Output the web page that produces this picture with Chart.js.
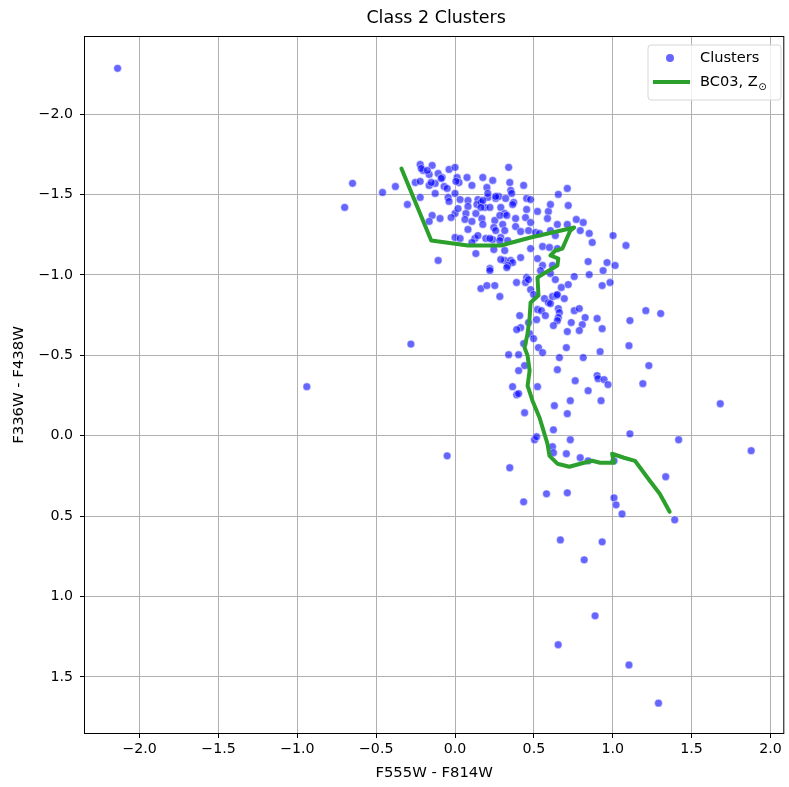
<!DOCTYPE html>
<html>
<head>
<meta charset="utf-8">
<script src="https://cdn.jsdelivr.net/npm/chart.js@4.4.0/dist/chart.umd.min.js"></script>
<style>
  html, body { margin: 0; padding: 0; background: #fff; }
  canvas { display: block; }
</style>
</head>
<body>
<canvas id="cmd" width="789" height="787"></canvas>
<script>
// ===== Date =====
const clusterX = [
  -2.14, -0.94, -0.65, -0.70, -0.46, -0.378, -0.302, -0.28, -0.05, -0.107,
  -0.221, -0.145, -0.038, 0.0, -0.202, -0.164, -0.107, -0.082, -0.252, -0.221,
  -0.164, -0.126, -0.069, -0.05, 0.013, 0.025, 0.076, 0.107, 0.176, 0.239,
  0.202, -0.221, -0.126, -0.044, 0.0, 0.032, 0.082, 0.145, 0.208, 0.258,
  -0.038, 0.082, 0.139, 0.189, 0.29, 0.315, 0.0, 0.069, 0.132, -0.145,
  -0.095, -0.164, 0.063, 0.107, 0.17, 0.252, 0.082, 0.176, 0.246, 0.258,
  0.302, 0.315, 0.0, 0.032, 0.126, 0.145, 0.195, 0.239, 0.29, 0.107,
  0.246, 0.315, 0.132, 0.221, 0.315,
  0.34, 0.347, 0.353, 0.359, 0.435, 0.277, 0.321, 0.372, 0.454, 0.479,
  0.523, 0.592, 0.605, 0.655, 0.712, 0.718, 0.586, 0.447, 0.479, 0.384,
  0.649, 0.712, 0.769, 0.813, 0.794, 0.851, 0.87, 1.002, 1.084, 0.416,
  0.466, 0.51, 0.605, 0.636, 0.555, 0.599, 0.479, 0.416, 0.353, 0.365,
  0.334, 0.523, 0.555, 0.618, 0.542, 0.605, 0.756, 0.844, 0.851, 0.964,
  1.015, 0.939, 0.454,
  0.208, 0.258, 0.454, 0.164, 0.221, 0.365, 0.284, 0.328, -0.214, -0.176,
  -0.151, -0.088, 0.006, 0.176, 0.164, 0.019, -0.025, 0.221, 0.284, 0.334,
  0.29, 0.328, 0.384, 0.536, 0.649,
  0.221, 0.164, 0.202, 0.252, 0.284, 0.39, 0.447, 0.466, 0.479, 0.498,
  0.636, 0.674, 0.718, 0.567, 0.592, 0.605, 0.618, 0.643, 0.649, 0.693,
  0.523, 0.548, 0.573, 0.655, 0.662, 0.655, 0.649, 0.756, 0.788, 0.825,
  0.41, 0.517, 0.624, 0.737, 0.807, 0.788, 0.712, 0.416, 0.391, 0.466,
  0.473, 0.498, 0.435, 0.529, 0.555, 0.706, 0.34, 0.403, 0.662, 0.813,
  0.441, 0.403, 0.649, 0.762, 0.844, 0.365, 0.523, 0.391, 0.403, 0.731,
  0.63,
  0.933, 0.983, 1.21, 1.304, 1.109, 0.901, 0.933, 1.103, 0.92, 1.229,
  0.901, 0.907, 0.945, 0.97, 1.191, 0.926, 1.682, 1.109, 1.418, 1.878,
  1.008,
  0.441, 0.712, 0.504, 0.517, 0.624, 0.731, 0.618, 0.624, 0.706, 0.794,
  0.844, 0.347, 1.336, 0.58, 0.712, 0.435, 1.008, 1.021, 1.059, 1.393,
  0.668, 0.933, 0.819, 0.888, 0.654, 1.103, 1.29
];
const clusterY = [
  -2.285, -0.305, -1.57, -1.42, -1.513, -1.55, -1.438, -0.57, 0.125, -1.09,
  -1.687, -1.681, -1.656, -1.669, -1.65, -1.625, -1.631, -1.606, -1.575, -1.582,
  -1.557, -1.569, -1.55, -1.538, -1.606, -1.575, -1.606, -1.557, -1.606, -1.588,
  -1.544, -1.482, -1.507, -1.482, -1.507, -1.469, -1.463, -1.469, -1.482, -1.476,
  -1.457, -1.426, -1.438, -1.42, -1.42, -1.382, -1.382, -1.382, -1.382, -1.37,
  -1.351, -1.333, -1.345, -1.333, -1.351, -1.339, -1.283, -1.314, -1.295, -1.276,
  -1.314, -1.276, -1.233, -1.227, -1.227, -1.245, -1.227, -1.22, -1.233, -1.202,
  -1.158, -1.152, -1.133, -1.04, -1.09,
  -1.669, -1.575, -1.526, -1.507, -1.557, -1.488, -1.476, -1.451, -1.476, -1.469,
  -1.395, -1.395, -1.438, -1.501, -1.538, -1.432, -1.351, -1.357, -1.326, -1.301,
  -1.314, -1.314, -1.345, -1.326, -1.276, -1.258, -1.202, -1.245, -1.183, -1.27,
  -1.276, -1.264, -1.276, -1.245, -1.177, -1.171, -1.164, -1.108, -1.09, -1.077,
  -1.059, -1.102, -1.059, -1.059, -1.027, -1.009, -0.99, -1.083, -1.002, -1.077,
  -1.059, -1.027, -0.984,
  -1.507, -1.488, -1.407, -1.451, -1.42, -1.438, -1.37, -1.37, -1.662, -1.65,
  -1.575, -1.6, -1.582, -1.463, -1.42, -1.413, -1.357, -1.227, -1.214, -1.214,
  -1.096, -1.046, -1.351, -1.258, -1.164,
  -1.027, -0.915, -0.934, -0.934, -0.866, -0.953, -0.953, -0.971, -0.909, -0.878,
  -0.971, -0.922, -0.94, -0.853, -0.828, -0.822, -0.866, -0.872, -0.878, -0.853,
  -0.785, -0.778, -0.747, -0.791, -0.766, -0.735, -0.716, -0.778, -0.791, -0.735,
  -0.747, -0.722, -0.685, -0.704, -0.691, -0.654, -0.648, -0.672, -0.66, -0.704,
  -0.635, -0.604, -0.573, -0.548, -0.517, -0.548, -0.504, -0.504, -0.486, -0.486,
  -0.436, -0.405, -0.411, -0.342, -0.28, -0.305, -0.305, -0.255, -0.262, -0.218,
  -0.187,
  -0.934, -0.953, -0.778, -0.76, -0.716, -0.729, -0.666, -0.56, -0.523, -0.436,
  -0.374, -0.355, -0.349, -0.318, -0.324, -0.218, -0.199, -0.012, 0.025, 0.093,
  0.156,
  -0.143, -0.137, 0.025, 0.006, -0.037, 0.025, 0.068, 0.106, 0.112, 0.137,
  0.156, 0.199, 0.255, 0.361, 0.355, 0.411, 0.386, 0.43, 0.486, 0.523,
  0.648, 0.66, 0.772, 1.12, 1.30, 1.426, 1.663
];

// traseul modelului BC03 (metalicitate solară)
const modelX = [
  -0.34, -0.151, 0.082, 0.29, 0.479, 0.756, 0.731, 0.681, 0.636, 0.605,
  0.655, 0.649, 0.542, 0.523, 0.529, 0.479, 0.473, 0.46, 0.441, 0.46,
  0.473, 0.46, 0.491, 0.536, 0.555, 0.586, 0.599, 0.649, 0.725, 0.794,
  0.87, 0.92, 1.008, 0.996, 1.071, 1.141, 1.235, 1.298, 1.361
];
const modelY = [
  -1.662, -1.214, -1.183, -1.183, -1.233, -1.295, -1.276, -1.164, -1.152, -1.121,
  -1.102, -1.059, -0.996, -0.984, -0.872, -0.828, -0.735, -0.635, -0.548, -0.498,
  -0.405, -0.311, -0.218, -0.112, -0.05, 0.05, 0.125, 0.174, 0.193, 0.174,
  0.156, 0.168, 0.168, 0.112, 0.137, 0.156, 0.28, 0.361, 0.473
];

const xTicks = [-2.0, -1.5, -1.0, -0.5, 0.0, 0.5, 1.0, 1.5, 2.0];
const yTicks = [-2.0, -1.5, -1.0, -0.5, 0.0, 0.5, 1.0, 1.5];

const FONT = "'DejaVu Sans', 'Liberation Sans', sans-serif";
const GREEN = "#2ca02c";
const BLUE = "rgba(0, 0, 255, 0.6)";

const fmtTick = v => v.toFixed(1).replace("-", "\u2212");

// ===== Plugin: ramă, titlu, etichete axe, legendă =====
const decorPlugin = {
  id: "decor",
  afterDraw(chart) {
    const { ctx, chartArea: a } = chart;
    ctx.save();

    // rama axelor
    ctx.strokeStyle = "#000";
    ctx.lineWidth = 1;
    ctx.strokeRect(a.left + 0.5, a.top + 0.5, a.right - a.left - 1, a.bottom - a.top - 1);

    const cx = (a.left + a.right) / 2;
    const cy = (a.top + a.bottom) / 2;

    // titlu
    ctx.fillStyle = "#000";
    ctx.textAlign = "center";
    ctx.textBaseline = "middle";
    ctx.font = `17.5px ${FONT}`;
    ctx.fillText("Class 2 Clusters", cx + 2, 18);

    // etichete axe
    ctx.font = `14.8px ${FONT}`;
    ctx.fillText("F555W - F814W", cx, 773);
    ctx.save();
    ctx.translate(19, cy);
    ctx.rotate(-Math.PI / 2);
    ctx.fillText("F336W - F438W", 0, 0);
    ctx.restore();

    // legenda
    const lx = 648, ly = 45, lw = 133, lh = 55, r = 3;
    ctx.beginPath();
    ctx.moveTo(lx + r, ly);
    ctx.arcTo(lx + lw, ly, lx + lw, ly + lh, r);
    ctx.arcTo(lx + lw, ly + lh, lx, ly + lh, r);
    ctx.arcTo(lx, ly + lh, lx, ly, r);
    ctx.arcTo(lx, ly, lx + lw, ly, r);
    ctx.closePath();
    ctx.fillStyle = "rgba(255,255,255,0.8)";
    ctx.fill();
    ctx.strokeStyle = "#d6d6d6";
    ctx.stroke();

    ctx.beginPath();
    ctx.arc(670, 58, 4, 0, Math.PI * 2);
    ctx.fillStyle = BLUE;
    ctx.fill();

    ctx.beginPath();
    ctx.moveTo(653, 82);
    ctx.lineTo(690, 82);
    ctx.strokeStyle = GREEN;
    ctx.lineWidth = 4;
    ctx.stroke();

    ctx.fillStyle = "#000";
    ctx.textAlign = "left";
    ctx.font = `14.6px ${FONT}`;
    ctx.fillText("Clusters", 700, 58);
    ctx.fillText("BC03, Z", 700, 82);
    const w = ctx.measureText("BC03, Z").width;
    ctx.font = `10px ${FONT}`;
    ctx.fillText("\u2299", 700 + w + 0.5, 87);

    ctx.restore();
  }
};

// ===== Grafic =====
const clusters = clusterX.map((x, i) => ({ x, y: clusterY[i] }));
const model = modelX.map((x, i) => ({ x, y: modelY[i] }));

const tickFont = { family: FONT, size: 14.2 };

new Chart(document.getElementById("cmd").getContext("2d"), {
  type: "scatter",
  data: {
    datasets: [
      {
        label: "BC03, Z\u2299",
        data: model,
        showLine: true,
        borderColor: GREEN,
        borderWidth: 4,
        pointRadius: 0,
        tension: 0,
        borderJoinStyle: "round",
        borderCapStyle: "round",
        order: 0
      },
      {
        label: "Clusters",
        data: clusters,
        backgroundColor: BLUE,
        borderColor: "rgba(255,255,255,0.6)",
        borderWidth: 0.8,
        pointRadius: 3.9,
        pointHoverRadius: 3.9,
        order: 1
      }
    ]
  },
  options: {
    responsive: false,
    animation: false,
    events: [],
    layout: { padding: { top: 36, right: 1, left: 0, bottom: 0 } },
    plugins: {
      legend: { display: false },
      title: { display: false },
      tooltip: { enabled: false }
    },
    scales: {
      x: {
        type: "linear",
        min: -2.353,
        max: 2.088,
        afterBuildTicks: s => { s.ticks = xTicks.map(v => ({ value: v })); },
        afterFit: s => { s.height = 53; },
        ticks: { callback: fmtTick, color: "#000", font: tickFont, padding: 3, maxRotation: 0, autoSkip: false },
        grid: { color: "#b0b0b0", lineWidth: 1, tickLength: 4, tickColor: "#000" },
        border: { display: false }
      },
      y: {
        type: "linear",
        reverse: true,
        min: -2.486,
        max: 1.855,
        afterBuildTicks: s => { s.ticks = yTicks.map(v => ({ value: v })); },
        afterFit: s => { s.width = 84; },
        ticks: { callback: fmtTick, color: "#000", font: tickFont, padding: 7, autoSkip: false },
        grid: { color: "#b0b0b0", lineWidth: 1, tickLength: 4, tickColor: "#000" },
        border: { display: false }
      }
    }
  },
  plugins: [decorPlugin]
});
</script>
</body>
</html>
